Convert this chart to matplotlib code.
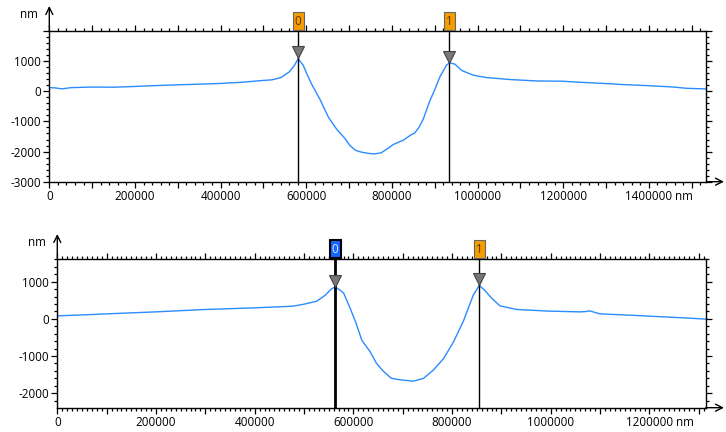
import numpy as np
import matplotlib
matplotlib.use("Agg")
import matplotlib.pyplot as plt
from matplotlib.ticker import MultipleLocator, FuncFormatter
from matplotlib.transforms import offset_copy, blended_transform_factory

plt.rcParams['font.family'] = ['Open Sans', 'DejaVu Sans']

# top profile (nm)
top_x = [0, 15000, 30000, 50000, 100000, 150000, 200000, 250000, 300000, 350000,
         400000, 450000, 500000, 520000, 540000, 560000, 572000, 581000, 593000, 600000,
         612000, 632000, 652000, 671000, 690000, 702000, 715000, 729000, 745000, 760000,
         775000, 790000, 803000, 827000, 845000, 853000, 863000, 873000, 889000, 900000,
         912000, 928000, 935000, 947000, 963000, 990000, 1020000, 1075000, 1137000, 1199000,
         1238000, 1300000, 1339000, 1394000, 1456000, 1487000, 1534000]
top_y = [123, 110, 80, 120, 140, 135, 160, 190, 215, 235,
         260, 300, 360, 380, 450, 640, 850, 1080, 860, 620,
         250, -270, -870, -1260, -1560, -1800, -1960, -2020, -2060, -2078,
         -2040, -1900, -1767, -1620, -1440, -1389, -1200, -930, -300, 50,
         478, 880, 944, 900, 690, 533, 456, 390, 343, 333,
         300, 256, 223, 190, 143, 100, 77]
top_markers = [581000, 934000]

# bottom profile (nm)
bot_x = [0, 50000, 100000, 200000, 300000, 400000, 478000, 500000, 526000, 543000,
         555000, 563000, 573000, 580000, 593000, 605000, 617000, 634000, 647000, 660000,
         677000, 695000, 721000, 742000, 762000, 783000, 803000, 823000, 843000, 855000,
         866000, 880000, 897000, 931000, 958000, 998000, 1059000, 1070000, 1079000, 1090000,
         1100000, 1160000, 1228000, 1280000, 1314000]
bot_y = [81, 105, 134, 188, 252, 296, 341, 395, 476, 637,
         800, 860, 771, 700, 300, -100, -573, -887, -1200, -1400,
         -1600, -1640, -1675, -1602, -1379, -1065, -618, -60, 637, 900,
         771, 560, 350, 252, 234, 207, 188, 195, 215, 170,
         134, 99, 54, 20, -8]
bot_markers = [563000, 855000]

W, H = 726, 432
fig = plt.figure(figsize=(W / 100, H / 100), dpi=100)

line_color = '#2a8cff'
fs = 8.4


def px_box(left, right, top, bottom):
    return [left / W, 1 - bottom / H, (right - left) / W, (bottom - top) / H]


def setup(ax, xmax, ylim, xminor):
    ax.set_xlim(0, xmax)
    ax.set_ylim(*ylim)
    ax.xaxis.set_major_locator(MultipleLocator(100000))
    ax.xaxis.set_minor_locator(MultipleLocator(xminor))
    ax.yaxis.set_major_locator(MultipleLocator(1000))
    ax.yaxis.set_minor_locator(MultipleLocator(200))
    ax.xaxis.set_major_formatter(FuncFormatter(
        lambda v, p: '%d' % v if round(v) % 200000 == 0 else ''))
    top = ylim[1]
    ax.yaxis.set_major_formatter(FuncFormatter(
        lambda v, p: '%d' % v if v < top - 1 else ''))
    ax.tick_params(which='both', direction='out', top=True, right=True,
                   labelsize=fs, colors='black', width=0.9)
    ax.tick_params(which='major', length=4, pad=2)
    ax.tick_params(which='minor', length=2)
    for s in ax.spines.values():
        s.set_linewidth(1.0)
        s.set_color('black')


def draw_markers(ax, xs, px, py, colors):
    tri = offset_copy(ax.transData, fig=fig, y=4.5, units='points')
    box_tr = blended_transform_factory(ax.transData, ax.transAxes)
    for i, m in enumerate(xs):
        style = colors[i]
        ax.axvline(m, color='black', lw=style['lw'], zorder=3)
        y = np.interp(m, px, py)
        ax.plot([m], [y], marker='v', ms=8, mfc='#777777', mec='#444444',
                mew=0.8, transform=tri, zorder=4, clip_on=False)
        ax.annotate(str(i), xy=(m, 1.0), xycoords=box_tr, xytext=(0, 2.5),
                    textcoords='offset points', ha='center', va='bottom',
                    fontsize=fs, color=style['tc'], zorder=5,
                    bbox=dict(boxstyle='square,pad=0.18', fc=style['fc'],
                              ec=style['ec'], lw=style['blw']))


def axis_arrows(pos):
    l, b, w, h = pos
    fig.add_artist(matplotlib.patches.FancyArrowPatch(
        (l, b + h), (l, b + h + 25 / H), transform=fig.transFigure,
        arrowstyle='->,head_length=0.5,head_width=0.25', mutation_scale=10,
        lw=1.0, color='black', shrinkA=0, shrinkB=0))
    fig.add_artist(matplotlib.patches.FancyArrowPatch(
        (l + w, b), (724 / W, b), transform=fig.transFigure,
        arrowstyle='->,head_length=0.5,head_width=0.25', mutation_scale=10,
        lw=1.0, color='black', shrinkA=0, shrinkB=0))


orange = dict(fc='#f59c00', ec='#666666', tc='#5a3a00', lw=1.0, blw=0.8)
blue = dict(fc='#1565ff', ec='black', tc='#d8e8ff', lw=2.0, blw=1.5)

pos1 = px_box(49.3, 706.3, 31, 181.7)
ax1 = fig.add_axes(pos1)
ax1.plot(top_x, top_y, color=line_color, lw=1.0)
setup(ax1, 1534000, (-3000, 2000), 20000)
draw_markers(ax1, top_markers, top_x, top_y, [orange, orange])
axis_arrows(pos1)

pos2 = px_box(57.3, 705.7, 259, 407.7)
ax2 = fig.add_axes(pos2)
ax2.plot(bot_x, bot_y, color=line_color, lw=1.0)
setup(ax2, 1314000, (-2390, 1610), 10000)
draw_markers(ax2, bot_markers, bot_x, bot_y, [blue, orange])
axis_arrows(pos2)

# unit labels
fig.text(29 / W, 1 - 15 / H, 'nm', fontsize=fs, ha='center', va='center')
fig.text(37 / W, 1 - 243 / H, 'nm', fontsize=fs, ha='center', va='center')

fig.canvas.draw()
for ax, last in [(ax1, '1400000'), (ax2, '1200000')]:
    for lab in ax.get_xticklabels():
        if lab.get_text() == last:
            bb = lab.get_window_extent()
            fig.text((bb.x1 + 3) / W, bb.y0 / H, 'nm', fontsize=fs,
                     ha='left', va='bottom')

fig.savefig('out.png', dpi=100)
